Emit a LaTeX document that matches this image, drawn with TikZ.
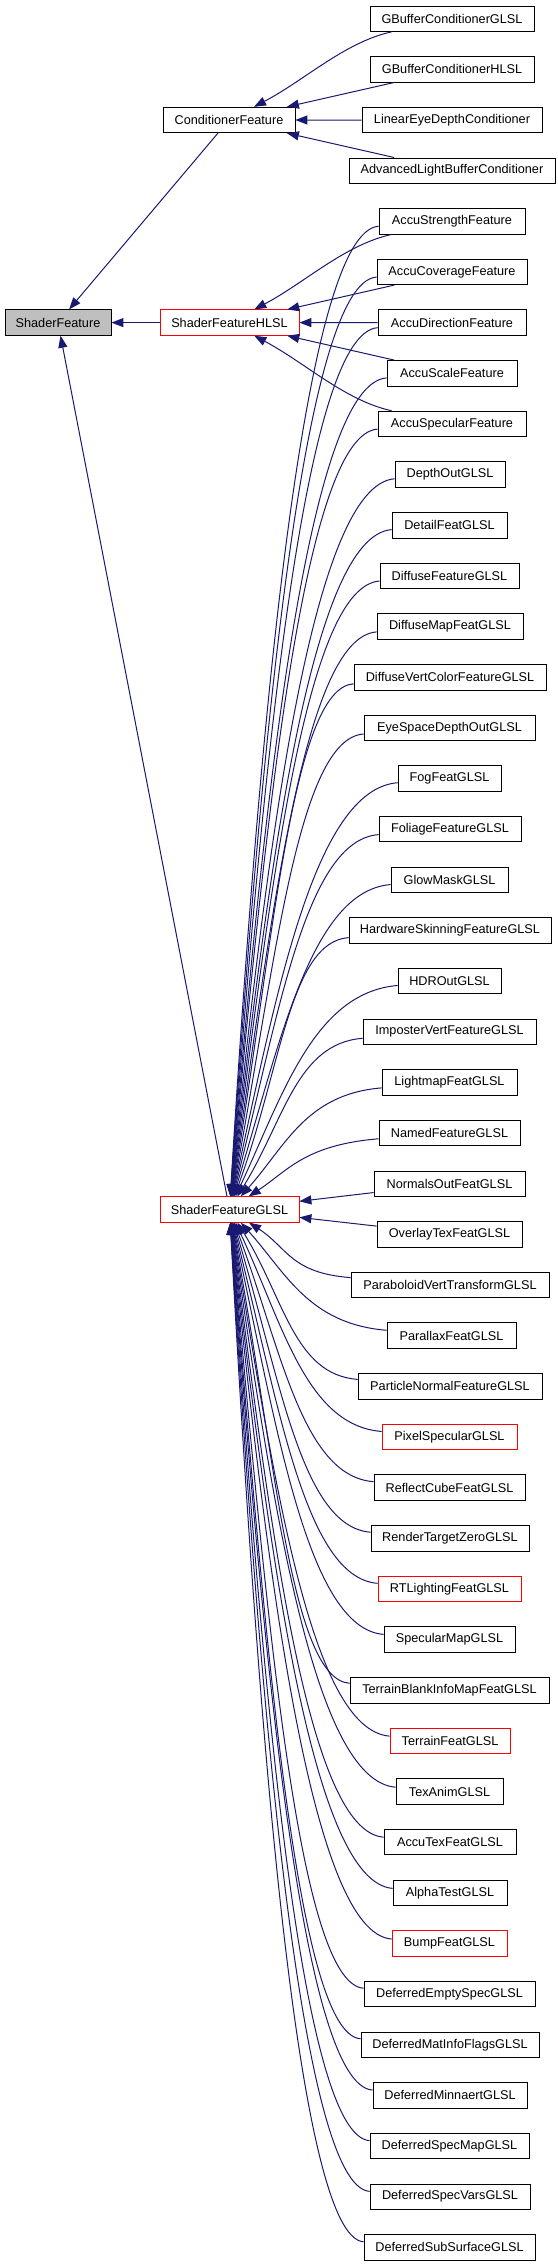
\documentclass[tikz,border=0pt]{standalone}
\usepackage{fontspec}
\setmainfont{Liberation Sans}
\usetikzlibrary{arrows.meta}
\definecolor{edgec}{RGB}{25,25,112}
\definecolor{boxred}{RGB}{255,0,0}
\definecolor{boxgrey}{RGB}{191,191,191}
\begin{document}
\begin{tikzpicture}[x=1pt,y=-1pt,
  cls/.style={draw=black, line width=0.8pt, fill=white, inner sep=0pt, minimum height=25.5pt, font=\fontsize{12.7}{15}\selectfont, text=black},
  redcls/.style={cls, draw=boxred},
  inh/.style={draw=edgec, line width=1pt, {Triangle[length=12pt,width=9pt,fill=edgec]}-}]
\useasboundingbox (0,0) rectangle (557,2267);
% main classes
\node[cls, fill=boxgrey, minimum width=106pt] (sf) at (58,322.6) {ShaderFeature};
\node[cls, minimum width=132pt] (cond) at (229,120) {ConditionerFeature};
\node[redcls, minimum width=139pt] (hlsl) at (229.5,322.6) {ShaderFeatureHLSL};
\node[redcls, minimum width=139pt] (glsl) at (229.5,1209.5) {ShaderFeatureGLSL};
% right column
\foreach \n/\r/\a/\b/\t/\s in {
  gbg/0/370/534/GBufferConditionerGLSL/cls,
  gbh/1/370/534/GBufferConditionerHLSL/cls,
  led/2/362/542/LinearEyeDepthConditioner/cls,
  albc/3/349/555/AdvancedLightBufferConditioner/cls,
  astr/4/379/525/AccuStrengthFeature/cls,
  acov/5/377/527/AccuCoverageFeature/cls,
  adir/6/378/526/AccuDirectionFeature/cls,
  asca/7/387/517/AccuScaleFeature/cls,
  aspe/8/378/526/AccuSpecularFeature/cls,
  dout/9/395/505/DepthOutGLSL/cls,
  det/10/392/507/DetailFeatGLSL/cls,
  dif/11/380/519/DiffuseFeatureGLSL/cls,
  difm/12/377/523/DiffuseMapFeatGLSL/cls,
  dvc/13/354/546/DiffuseVertColorFeatureGLSL/cls,
  esd/14/364/535/EyeSpaceDepthOutGLSL/cls,
  fog/15/398/501/FogFeatGLSL/cls,
  fol/16/379/521/FoliageFeatureGLSL/cls,
  glow/17/391/508/GlowMaskGLSL/cls,
  hws/18/349/551/HardwareSkinningFeatureGLSL/cls,
  hdr/19/398/501/HDROutGLSL/cls,
  imp/20/363/536/ImposterVertFeatureGLSL/cls,
  lm/21/382/517/LightmapFeatGLSL/cls,
  nam/22/379/520/NamedFeatureGLSL/cls,
  nor/23/374/525/NormalsOutFeatGLSL/cls,
  ovl/24/377/522/OverlayTexFeatGLSL/cls,
  par/25/351/549/ParaboloidVertTransformGLSL/cls,
  plx/26/387/516/ParallaxFeatGLSL/cls,
  pnf/27/358/542/ParticleNormalFeatureGLSL/cls,
  psp/28/382/517/PixelSpecularGLSL/redcls,
  rcf/29/374/525/ReflectCubeFeatGLSL/cls,
  rtz/30/371/529/RenderTargetZeroGLSL/cls,
  rtl/31/378/521/RTLightingFeatGLSL/redcls,
  spm/32/384/515/SpecularMapGLSL/cls,
  tbi/33/350/549/TerrainBlankInfoMapFeatGLSL/cls,
  ter/34/390/510/TerrainFeatGLSL/redcls,
  tex/35/396/503/TexAnimGLSL/cls,
  atf/36/384/516/AccuTexFeatGLSL/cls,
  alp/37/393/507/AlphaTestGLSL/cls,
  bmp/38/392/507/BumpFeatGLSL/redcls,
  des/39/364/535/DeferredEmptySpecGLSL/cls,
  dmi/40/361/539/DeferredMatInfoFlagsGLSL/cls,
  dmn/41/373/527/DeferredMinnaertGLSL/cls,
  dsm/42/370/529/DeferredSpecMapGLSL/cls,
  dsv/43/370/530/DeferredSpecVarsGLSL/cls,
  dss/44/364/535/DeferredSubSurfaceGLSL/cls}
{
  \pgfmathsetmacro\cx{(\a+\b)/2}
  \pgfmathsetmacro\cy{18.7+50.65*\r}
  \pgfmathsetmacro\w{\b-\a}
  \node[\s, minimum width=\w pt] (\n) at (\cx,\cy) {\t};
}
% edges to ShaderFeature
\draw[inh] (sf) -- (cond);
\draw[inh] (sf) -- (hlsl);
\draw[inh] (sf) -- (glsl);
% ConditionerFeature children
\draw[inh] (cond) .. controls (305,80) and (345,42) .. (gbg);
\draw[inh] (cond) -- (gbh);
\draw[inh] (cond) -- (led);
\draw[inh] (cond) -- (albc);
% ShaderFeatureHLSL children
\draw[inh] (hlsl) .. controls (305,282.6) and (345,244.6) .. (astr);
\draw[inh] (hlsl) -- (acov);
\draw[inh] (hlsl) -- (adir);
\draw[inh] (hlsl) -- (asca);
\draw[inh] (hlsl) .. controls (305,362.6) and (345,400.6) .. (aspe);
% ShaderFeatureGLSL children
\draw[inh] (glsl) -- (nor);
\draw[inh] (glsl) -- (ovl);
\foreach \n/\r/\xl in {
  astr/4/379, acov/5/377, adir/6/378, asca/7/387, aspe/8/378,
  dout/9/395, det/10/392, dif/11/380, difm/12/377, dvc/13/354,
  esd/14/364, fog/15/398, fol/16/379, glow/17/391, hws/18/349,
  hdr/19/398, imp/20/363, lm/21/382, nam/22/379,
  par/25/351, plx/26/387, pnf/27/358, psp/28/382, rcf/29/374,
  rtz/30/371, rtl/31/378, spm/32/384, tbi/33/350, ter/34/390,
  tex/35/396, atf/36/384, alp/37/393, bmp/38/392, des/39/364,
  dmi/40/361, dmn/41/373, dsm/42/370, dsv/43/370, dss/44/364}
{
  \pgfmathsetmacro\yc{18.7+50.65*\r}
  \pgfmathsetmacro\D{1209.5-\yc}
  \pgfmathsetmacro\AD{abs(\D)}
  \pgfmathsetmacro\fr{\AD*0.001}
  \pgfmathsetmacro\sg{(\D>0) ? 1 : -1}
  \pgfmathsetmacro\ax{289.5-30*\fr}
  \pgfmathsetmacro\ay{1209.5-0.5*\D}
  \pgfmathsetmacro\bx{\xl-0.5*(\xl-230)}
  \pgfmathsetmacro\by{\yc+0.01*\D+\sg*12*(1-\fr)}
  \pgfmathsetmacro\tdx{12.75*(\ax-229.5)/(0.5*\AD)}
  \ifnum\r<23 \def\anc{north}\else\def\anc{south}\fi
  \draw[inh] ([xshift=\tdx pt]glsl.\anc) .. controls (\ax,\ay) and (\bx,\by) .. (\n);
}
\end{tikzpicture}
\end{document}
